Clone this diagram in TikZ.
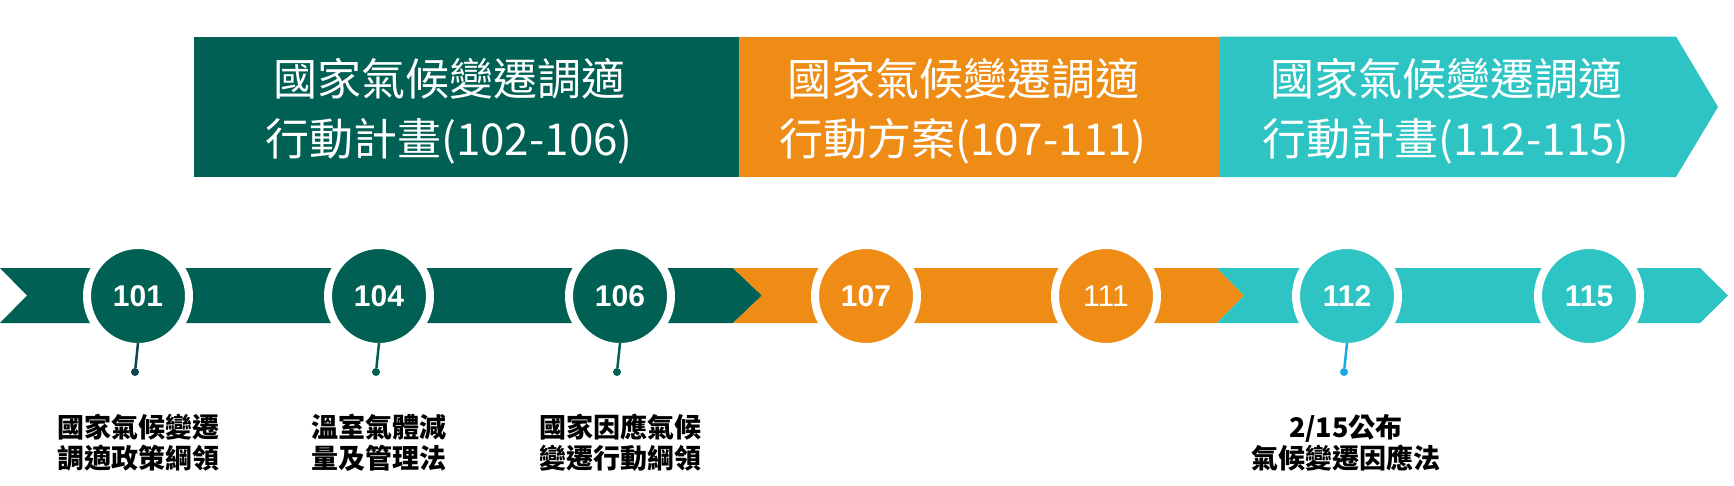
\documentclass[tikz,border=0pt]{standalone}
\usepackage{fontspec}
\setmainfont{Liberation Sans}
\newfontfamily\cjk{Noto Sans CJK TC}
\usetikzlibrary{positioning, arrows.meta}
\definecolor{planGreen}{HTML}{006054}
\definecolor{planOrange}{HTML}{EE8C16}
\definecolor{planTeal}{HTML}{2DC4C3}
\definecolor{pinBlue}{HTML}{19A9E1}
\definecolor{pinNavy}{HTML}{0E4450}
\tikzset{
    >=Stealth
}

\begin{document}
\begin{tikzpicture}[x=1pt, y=-1pt,
  banner/.style={font=\cjk\fontsize{44}{60}\selectfont, text=white, align=center},
  year/.style={circle, draw=white, line width=8pt, minimum size=102pt, inner sep=0pt, outer sep=-4pt, text=white, font=\fontsize{30}{30}\selectfont\bfseries},
  pin/.style={circle, inner sep=0pt, minimum size=8pt},
  pinline/.style={line width=2.5pt},
  event/.style={font=\cjk\bfseries\fontsize{27}{31}\selectfont, align=center}
]
  \useasboundingbox (0,0) rectangle (1734,485);

  % Top banners
  \fill[planGreen]  (193.5,36.5) rectangle (739,177);
  \fill[planOrange] (739,36.5) rectangle (1220,177);
  \fill[planTeal]   (1220,36.5) -- (1676,36.5) -- (1718,107) -- (1676,177) -- (1220,177) -- cycle;

  \node[banner] (planA) at (449,111)  {國家氣候變遷調適\\行動計畫(102-106)};
  \node[banner] (planB) at (963,111)  {國家氣候變遷調適\\行動方案(107-111)};
  \node[banner] (planC) at (1446,111) {國家氣候變遷調適\\行動計畫(112-115)};

  % Timeline ribbon
  \fill[planGreen]  (0,268) -- (733,268) -- (762,295.5) -- (733,323) -- (0,323) -- (27,295.5) -- cycle;
  \fill[planOrange] (733,268) -- (1217,268) -- (1244,295.5) -- (1217,323) -- (733,323) -- (762,295.5) -- cycle;
  \fill[planTeal]   (1217,268) -- (1700,268) -- (1728,295.5) -- (1700,323) -- (1217,323) -- (1244,295.5) -- cycle;

  % Year circles
  \node[year, fill=planGreen]  (y101) at (138,296)  {101};
  \node[year, fill=planGreen]  (y104) at (379,296)  {104};
  \node[year, fill=planGreen]  (y106) at (620,296)  {106};
  \node[year, fill=planOrange] (y107) at (866,296)  {107};
  \node[year, fill=planOrange, font=\fontsize{30}{30}\selectfont] (y111) at (1106,296) {111};
  \node[year, fill=planTeal]   (y112) at (1347,296) {112};
  \node[year, fill=planTeal]   (y115) at (1589,296) {115};

  % Pins
  \node[pin, fill=pinNavy]   (d101) at (135,372)  {};
  \node[pin, fill=planGreen] (d104) at (376,372)  {};
  \node[pin, fill=planGreen] (d106) at (617,372)  {};
  \node[pin, fill=pinBlue]   (d112) at (1344,372) {};
  \draw[pinline, pinNavy]   (y101.south) -- (d101);
  \draw[pinline, planGreen] (y104.south) -- (d104);
  \draw[pinline, planGreen] (y106.south) -- (d106);
  \draw[pinline, pinBlue]   (y112.south) -- (d112);

  % Events
  \node[event] (e101) at (138,443)  {國家氣候變遷\\調適政策綱領};
  \node[event] (e104) at (379,443)  {溫室氣體減\\量及管理法};
  \node[event] (e106) at (620,443)  {國家因應氣候\\變遷行動綱領};
  \node[event] (e112) at (1346,443) {2/15公布\\氣候變遷因應法};
\end{tikzpicture}
\end{document}
